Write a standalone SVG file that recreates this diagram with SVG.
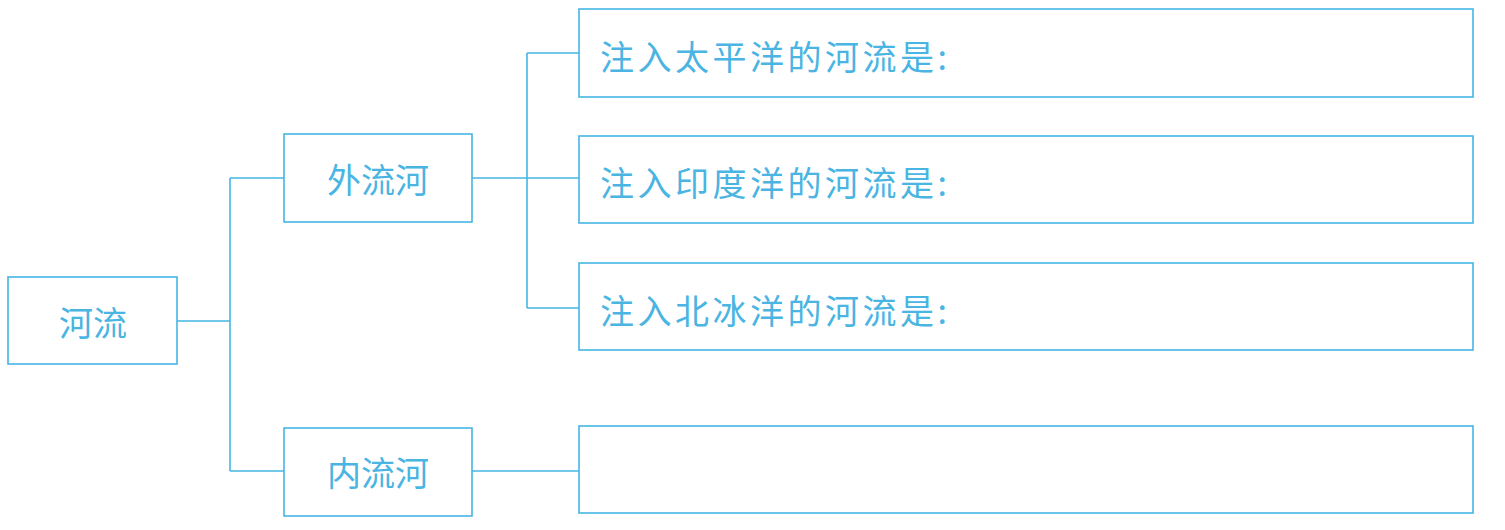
<svg xmlns="http://www.w3.org/2000/svg" width="1505" height="530" viewBox="0 0 1505 530">
<style>
.box{fill:none;stroke:#45b6e4;stroke-width:1.6}
.ln{fill:none;stroke:#45b6e4;stroke-width:1.6}
.t{font-family:"Noto Sans CJK SC","Noto Sans",sans-serif;font-size:34px;fill:#4ab4e2;dominant-baseline:central}
.tl{letter-spacing:3.5px}
</style>
<rect width="1505" height="530" fill="#ffffff"/>
<g id="connectors">
<path class="ln" d="M177 321 H230 M230 178 V471 M230 178 H284 M230 471 H284"/>
<path class="ln" d="M472 178 H579 M527 53 V308 M527 53 H579 M527 308 H579"/>
<path class="ln" d="M472 471 H579"/>
</g>
<g id="n-heliu"><rect class="box" x="8" y="277" width="169" height="87"/><text class="t" x="93" y="321" text-anchor="middle">河流</text></g>
<g id="n-wailiuhe"><rect class="box" x="284" y="134" width="188" height="88"/><text class="t" x="378" y="178" text-anchor="middle">外流河</text></g>
<g id="n-neiliuhe"><rect class="box" x="284" y="428" width="188" height="88"/><text class="t" x="378" y="471" text-anchor="middle">内流河</text></g>
<g id="n-pacific"><rect class="box" x="579" y="9" width="894" height="88"/><text class="t tl" x="600" y="55">注入太平洋的河流是:</text></g>
<g id="n-indian"><rect class="box" x="579" y="136" width="894" height="87"/><text class="t tl" x="600" y="181">注入印度洋的河流是:</text></g>
<g id="n-arctic"><rect class="box" x="579" y="263" width="894" height="87"/><text class="t tl" x="600" y="309">注入北冰洋的河流是:</text></g>
<g id="n-inland"><rect class="box" x="579" y="426" width="894" height="87"/></g>
</svg>
